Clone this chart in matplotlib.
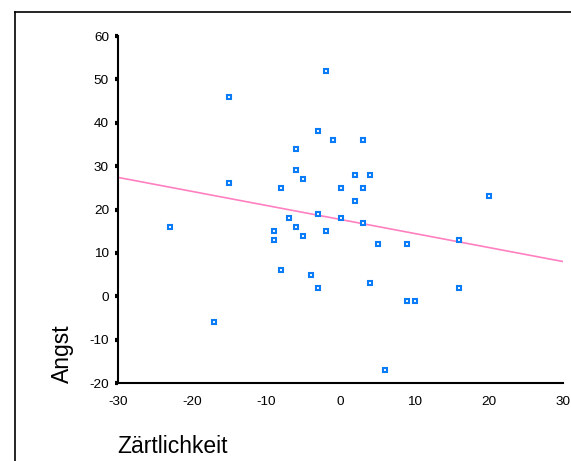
import numpy as np
import matplotlib
matplotlib.use("Agg")
import matplotlib.pyplot as plt
from matplotlib.lines import Line2D

plt.rcParams['font.family'] = ['Liberation Sans', 'DejaVu Sans']
plt.rcParams['axes.unicode_minus'] = False

# data
zaertlichkeit = [-15, -6, -15, -6, -8, -23, -7, -6, -9, -9, -2, -3, -1, 3, -5, 2, 4, 0, 3, 2,
                 20, -3, 0, 3, -5, -2, 16, -8, -17, 5, 9, -4, -3, 4, 16, 9, 10, 6]
angst = [46, 34, 26, 29, 25, 16, 18, 16, 15, 13, 52, 38, 36, 36, 27, 28, 28, 25, 25, 22,
         23, 19, 18, 17, 14, 15, 13, 6, -6, 12, 12, 5, 2, 3, 2, -1, -1, -17]

# regression line end points
fit_x = [-30, 30]
fit_y = [27.4, 8.0]

x_ticks = [-30, -20, -10, 0, 10, 20, 30]
y_ticks = [-20, -10, 0, 10, 20, 30, 40, 50, 60]

W, H = 571, 461
fig = plt.figure(figsize=(W / 100, H / 100), dpi=100)
ax = fig.add_axes([118 / W, 1 - 383 / H, (563 - 118) / W, (383 - 36) / H])

ax.plot(fit_x, fit_y, color='#ff80c0', lw=1.2, zorder=2)
ax.plot(zaertlichkeit, angst, ls='none', marker='s', ms=3.3, mfc='white',
        mec='#0a7cf8', mew=1.5, zorder=3)

ax.set_xlim(-30, 30)
ax.set_ylim(-20, 60)
ax.set_xticks(x_ticks)
ax.set_yticks(y_ticks)
ax.tick_params(axis='x', length=0, pad=9, labelsize=9.7)
ax.tick_params(axis='y', length=2.5, width=3, pad=4, labelsize=9.7, direction='out')

for s in ['top', 'right']:
    ax.spines[s].set_visible(False)
for s in ['left', 'bottom']:
    ax.spines[s].set_linewidth(1.5)
    ax.spines[s].set_color('black')

fig.text(62.5 / W, 1 - 383 / H, 'Angst', rotation=90, ha='center', va='bottom', fontsize=16.5)
fig.text(117 / W, 1 - 453 / H, 'Zärtlichkeit', ha='left', va='baseline', fontsize=16.5)

# outer frame (left and top edges)
fig.add_artist(Line2D([14.5 / W, 14.5 / W], [0, 1 - 12.5 / H], color='black', lw=1.2))
fig.add_artist(Line2D([14.5 / W, 1], [1 - 12.5 / H, 1 - 12.5 / H], color='black', lw=1.2))

fig.savefig('out.png', dpi=100)
